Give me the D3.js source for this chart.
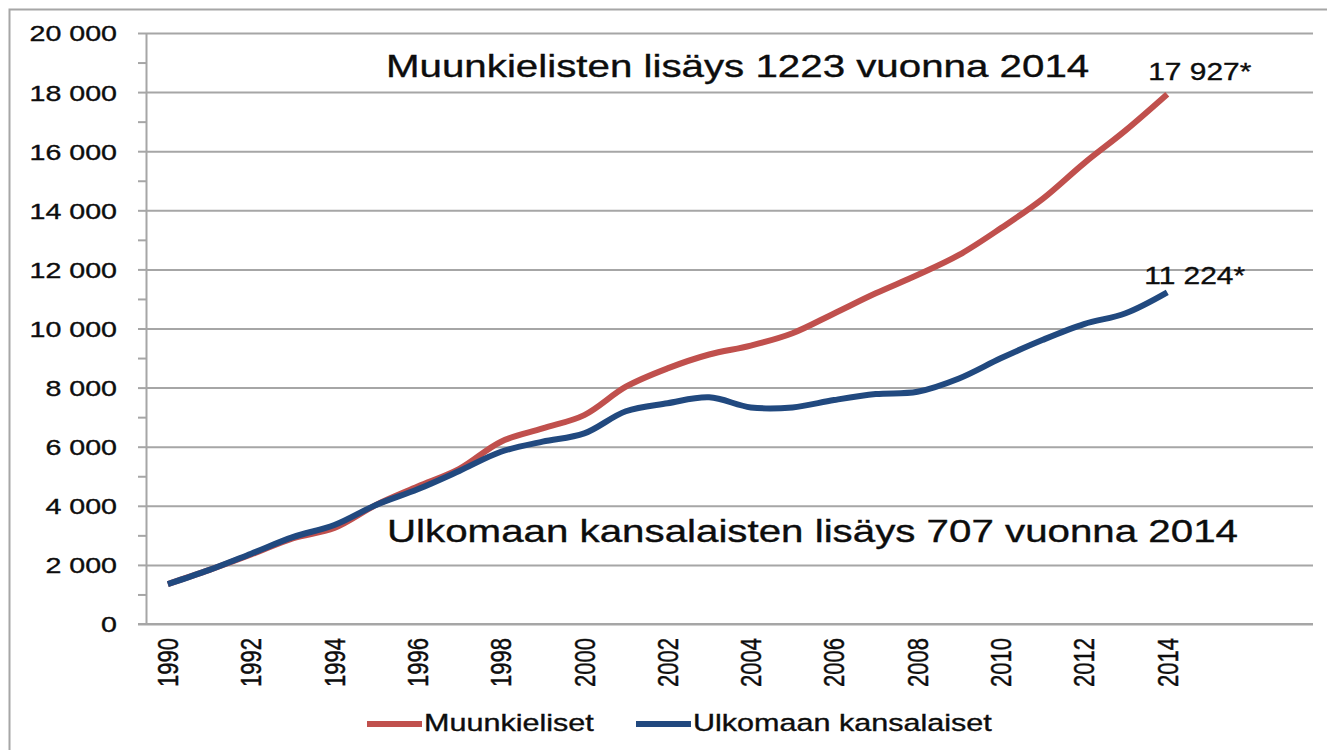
<!DOCTYPE html>
<html lang="fi">
<head>
<meta charset="utf-8">
<script src="https://cdn.jsdelivr.net/npm/d3@7"></script>
<style>
    html, body { margin: 0; padding: 0; background: #fff; }
    #chart-container { width: 1327px; height: 750px; }
    text { font-family: "Liberation Sans", Arial, sans-serif; fill: #0d0d0d; stroke: #0d0d0d; stroke-width: 0.35px; }
</style>
</head>
<body>
<div id="chart-container"></div>
<script>
// Years that carry data, and the full category axis (Excel left room up to 2017)
const years = [1990, 1991, 1992, 1993, 1994, 1995, 1996, 1997, 1998, 1999, 2000, 2001, 2002,
    2003, 2004, 2005, 2006, 2007, 2008, 2009, 2010, 2011, 2012, 2013, 2014];
const axisYears = [1990, 1991, 1992, 1993, 1994, 1995, 1996, 1997, 1998, 1999, 2000, 2001, 2002,
    2003, 2004, 2005, 2006, 2007, 2008, 2009, 2010, 2011, 2012, 2013, 2014, 2015, 2016, 2017];
const xTickYears = [1990, 1992, 1994, 1996, 1998, 2000, 2002, 2004, 2006, 2008, 2010, 2012, 2014];

const muunkieliset = [1350, 1830, 2350, 2900, 3250, 4030, 4650, 5250, 6170, 6620, 7070, 8030, 8650,
    9120, 9420, 9840, 10510, 11190, 11810, 12490, 13390, 14380, 15590, 16704, 17927];
const ulkomaanKansalaiset = [1350, 1830, 2380, 2940, 3350, 4030, 4560, 5180, 5830, 6170, 6450, 7200, 7470,
    7670, 7330, 7330, 7580, 7780, 7860, 8310, 8990, 9610, 10150, 10517, 11224];

const yTicks = [0, 2000, 4000, 6000, 8000, 10000, 12000, 14000, 16000, 18000, 20000];
const yMinorTicks = [1000, 3000, 5000, 7000, 9000, 11000, 13000, 15000, 17000, 19000];

const seriesNames = ['Muunkieliset', 'Ulkomaan kansalaiset'];

class KieliChart {
    constructor(containerId) {
        this.containerId = containerId;
        this.dimensions = { width: 1327, height: 750 };
        this.plot = { left: 147, right: 1313, top: 33, bottom: 624 };
        this.sx = 1.3; // the original picture is stretched sideways
        this.colors = { red: '#c0504d', blue: '#21497f', grid: '#a6a6a6' };
        this.fmt = d3.formatLocale({ decimal: ',', thousands: ' ', grouping: [3], currency: ['', ''] }).format(',');
    }

    // text that is stretched horizontally about its anchor point
    label(parent, x, y, str, size, anchor = 'start') {
        return parent.append('g')
            .attr('transform', `translate(${x},${y}) scale(${this.sx},1)`)
            .append('text')
            .attr('text-anchor', anchor)
            .style('font-size', `${size}px`)
            .text(str);
    }

    createChart() {
        const { width, height } = this.dimensions;
        const p = this.plot;

        d3.select(this.containerId).selectAll('*').remove();

        const svg = d3.select(this.containerId)
            .append('svg')
            .attr('width', width)
            .attr('height', height);

        // chart frame (only top and left edges are visible in the crop)
        svg.append('path')
            .attr('d', `M9.5,${height} V9.5 H${width}`)
            .attr('fill', 'none')
            .attr('stroke', this.colors.grid)
            .attr('stroke-width', 2);

        const xScale = d3.scaleBand()
            .domain(axisYears)
            .range([p.left, p.right])
            .padding(0);

        const yScale = d3.scaleLinear()
            .domain([0, 20000])
            .range([p.bottom, p.top]);

        const cx = d => xScale(d) + xScale.bandwidth() / 2;

        // gridlines
        svg.append('g')
            .attr('transform', `translate(${p.left},0)`)
            .call(d3.axisLeft(yScale).tickValues(yTicks).tickSize(-(p.right - p.left)).tickFormat(''))
            .call(g => g.select('.domain').remove())
            .call(g => g.selectAll('line').attr('stroke', this.colors.grid).attr('stroke-width', 2));

        // y axis with major + minor ticks
        svg.append('g')
            .attr('transform', `translate(${p.left},0)`)
            .call(d3.axisLeft(yScale).tickValues(yMinorTicks).tickSize(9).tickFormat(''))
            .call(g => g.select('.domain').remove())
            .call(g => g.selectAll('line').attr('stroke', this.colors.grid).attr('stroke-width', 2));

        const yAxis = svg.append('g')
            .attr('transform', `translate(${p.left},0)`)
            .call(d3.axisLeft(yScale).tickValues(yTicks).tickSize(9).tickPadding(0).tickFormat(this.fmt));
        yAxis.select('.domain')
            .attr('stroke', this.colors.grid).attr('stroke-width', 2)
            .attr('d', `M-0.5,${p.top}V${p.bottom}`);
        yAxis.selectAll('line').attr('stroke', this.colors.grid).attr('stroke-width', 2);
        yAxis.selectAll('text')
            .attr('x', 0)
            .attr('dy', '0.36em')
            .attr('fill', '#0d0d0d')
            .style('font-size', '22px')
            .style('font-family', '"Liberation Sans", Arial, sans-serif')
            .attr('transform', `translate(-30,0) scale(${this.sx},1)`);

        // x axis
        const xAxis = svg.append('g')
            .attr('transform', `translate(0,${p.bottom})`)
            .call(d3.axisBottom(xScale).tickValues(xTickYears).tickSize(0));
        xAxis.select('.domain')
            .attr('stroke', this.colors.grid).attr('stroke-width', 2)
            .attr('d', `M${p.left - 9},0H${p.right}`);
        xAxis.selectAll('text')
            .attr('y', 0)
            .attr('dy', '0.36em')
            .attr('text-anchor', 'end')
            .attr('fill', '#0d0d0d')
            .style('font-size', '22px')
            .style('font-family', '"Liberation Sans", Arial, sans-serif')
            .attr('transform', `translate(0,14) scale(${this.sx},1) rotate(-90)`);

        // lines
        const series = [
            { name: seriesNames[0], values: muunkieliset, color: this.colors.red, dx: -19, dy: -14 },
            { name: seriesNames[1], values: ulkomaanKansalaiset, color: this.colors.blue, dx: -23, dy: -8 }
        ];

        const line = d3.line()
            .x((d, i) => cx(years[i]))
            .y(d => yScale(d))
            .curve(d3.curveCatmullRom.alpha(0.5));

        series.forEach(s => {
            svg.append('path')
                .datum(s.values)
                .attr('fill', 'none')
                .attr('stroke', s.color)
                .attr('stroke-width', 6)
                .attr('stroke-linejoin', 'round')
                .attr('d', line);
        });

        // end value labels
        series.forEach(s => {
            const last = s.values.length - 1;
            this.label(svg, cx(years[last]) + s.dx, yScale(s.values[last]) + s.dy,
                `${this.fmt(s.values[last])}*`, 23);
        });

        // yearly increase annotations
        const n = years.length - 1;
        const incMuu = muunkieliset[n] - muunkieliset[n - 1];
        const incUlk = ulkomaanKansalaiset[n] - ulkomaanKansalaiset[n - 1];
        this.label(svg, 386, 77, `Muunkielisten lisäys ${incMuu} vuonna ${years[n]}`, 31);
        this.label(svg, 387, 542, `Ulkomaan kansalaisten lisäys ${incUlk} vuonna ${years[n]}`, 31);

        // legend
        const legendItems = [
            { x: 367, lineW: 55, color: this.colors.red, name: seriesNames[0] },
            { x: 636, lineW: 55, color: this.colors.blue, name: seriesNames[1] }
        ];
        legendItems.forEach(item => {
            svg.append('line')
                .attr('x1', item.x).attr('x2', item.x + item.lineW)
                .attr('y1', 724).attr('y2', 724)
                .attr('stroke', item.color)
                .attr('stroke-width', 6);
            this.label(svg, item.x + item.lineW + 2, 731, item.name, 23.5);
        });
    }
}

document.addEventListener('DOMContentLoaded', () => {
    const chart = new KieliChart('#chart-container');
    chart.createChart();
});
</script>
</body>
</html>
